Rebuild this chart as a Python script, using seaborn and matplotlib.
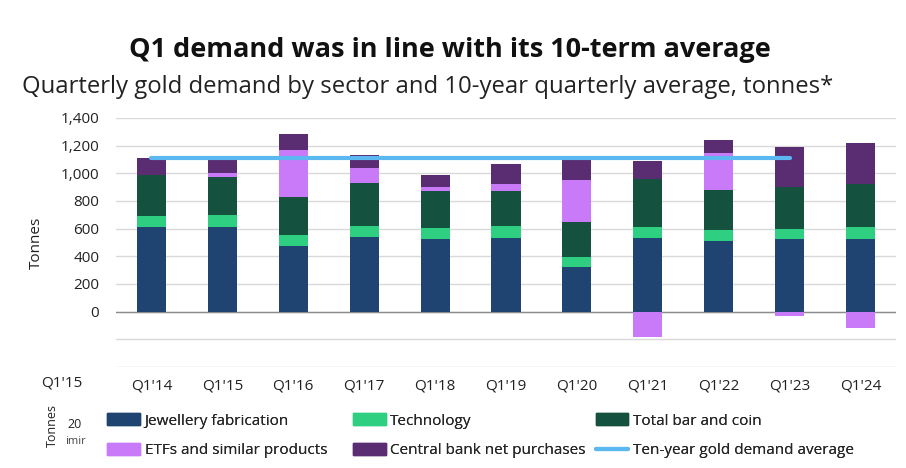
"""Q1 gold demand by sector, stacked bars with ten-year average line."""
import pandas as pd
import seaborn as sns
import matplotlib.pyplot as plt
from matplotlib.patches import Patch
from matplotlib.lines import Line2D

# Step 1: data (tonnes)
quarters = ["Q1'14", "Q1'15", "Q1'16", "Q1'17", "Q1'18", "Q1'19",
            "Q1'20", "Q1'21", "Q1'22", "Q1'23", "Q1'24"]
jewellery = [610, 615, 476, 542, 525, 535, 323, 530, 510, 525, 527]
technology = [82, 85, 78, 78, 80, 82, 73, 82, 83, 75, 81]
bar_coin = [299, 272, 272, 306, 265, 258, 253, 350, 284, 299, 311]
etfs = [-5, 27, 343, 109, 29, 44, 304, -185, 272, -34, -119]
central_banks = [117, 97, 116, 95, 85, 150, 143, 127, 88, 292, 298]
avg_quarters = quarters[:10]
avg_value = [1110] * 10

names = ["Jewellery fabrication", "Technology", "Total bar and coin",
         "ETFs and similar products", "Central bank net purchases"]
colors = ["#1f4471", "#2fcf82", "#14523f", "#c97af8", "#5a2c72"]
line_color = "#5cb8f0"

# Step 2: cumulative tops for the positive stack
df = pd.DataFrame({"quarter": quarters, "jew": jewellery, "tech": technology,
                   "bar": bar_coin, "etf": etfs, "cb": central_banks})
df["c1"] = df["jew"]
df["c2"] = df["c1"] + df["tech"]
df["c3"] = df["c2"] + df["bar"]
df["c4"] = df["c3"] + df["etf"].clip(lower=0)
df["c5"] = df["c4"] + df["cb"]
df["neg"] = df["etf"].clip(upper=0)

sns.set_style("white")
plt.rcParams["font.family"] = ["Open Sans", "DejaVu Sans"]

fig, ax = plt.subplots(figsize=(9.06, 4.68), dpi=100)
fig.subplots_adjust(left=0.128, right=0.989, top=0.748, bottom=0.216)

# Step 3: draw the layers from the top down so each covers the next
for col, color in zip(["c5", "c4", "c3", "c2", "c1"], colors[::-1]):
    sns.barplot(data=df, x="quarter", y=col, color=color, width=0.41,
                saturation=1, linewidth=0, ax=ax, zorder=2)
sns.barplot(data=df, x="quarter", y="neg", color=colors[3], width=0.41,
            saturation=1, linewidth=0, ax=ax, zorder=2)

avg_df = pd.DataFrame({"quarter": avg_quarters, "avg": avg_value})
sns.lineplot(data=avg_df, x="quarter", y="avg", color=line_color,
             linewidth=3, ax=ax, zorder=4)

# Step 4: axes styling
ax.set_xlim(-0.5, 10.5)
ax.set_ylim(-400, 1400)
ticks = list(range(-400, 1401, 200))
ax.set_yticks(ticks)
ax.set_yticklabels(["" if t < 0 else f"{t:,}" for t in ticks])
ax.yaxis.grid(True, color="#d9d9d9", linewidth=1, zorder=0)
ax.axhline(0, color="#8c8c8c", linewidth=1, zorder=1)
ax.set_axisbelow(True)
for s in ax.spines.values():
    s.set_visible(False)
ax.tick_params(axis="both", length=0, labelsize=11, colors="#222222", pad=8)
ax.tick_params(axis="y", pad=12)
ax.set_xlabel("")
ax.set_ylabel("Tonnes", fontsize=11, color="#222222", labelpad=12)

fig.text(0.497, 0.893, "Q1 demand was in line with its 10-term average",
         ha="center", va="center", fontsize=19.5, fontweight="bold",
         color="#111111")
fig.text(0.024, 0.815,
         "Quarterly gold demand by sector and 10-year quarterly average, tonnes*",
         ha="left", va="center", fontsize=17.2, color="#222222")

# stray fragments visible in the source image
fig.text(0.068, 0.181, "Q1'15", ha="center", va="center", fontsize=11,
         color="#222222")
fig.text(0.058, 0.090, "Tonnes", ha="center", va="center", fontsize=9,
         rotation=90, color="#222222")
fig.text(0.082, 0.094, "20", ha="center", va="center", fontsize=9,
         color="#222222")
fig.text(0.083, 0.057, "imir", ha="center", va="center", fontsize=8,
         color="#444444")

# Step 5: legend, one column at a time so the columns sit where they do in the source
columns = [
    ([Patch(color=colors[0]), Patch(color=colors[3])], [names[0], names[3]], 0.110),
    ([Patch(color=colors[1]), Patch(color=colors[4])], [names[1], names[4]], 0.381),
    ([Patch(color=colors[2]), Line2D([0], [0], color=line_color, linewidth=3)],
     [names[2], "Ten-year gold demand average"], 0.649),
]
for hs, ls, x0 in columns:
    leg = fig.legend(hs, ls, loc="upper left", bbox_to_anchor=(x0, 0.133),
                     frameon=False, fontsize=11, handlelength=2.15,
                     handleheight=0.8, handletextpad=0.3,
                     labelspacing=0.95, borderpad=0)
    fig.add_artist(leg)

plt.savefig("out.png", dpi=100)
